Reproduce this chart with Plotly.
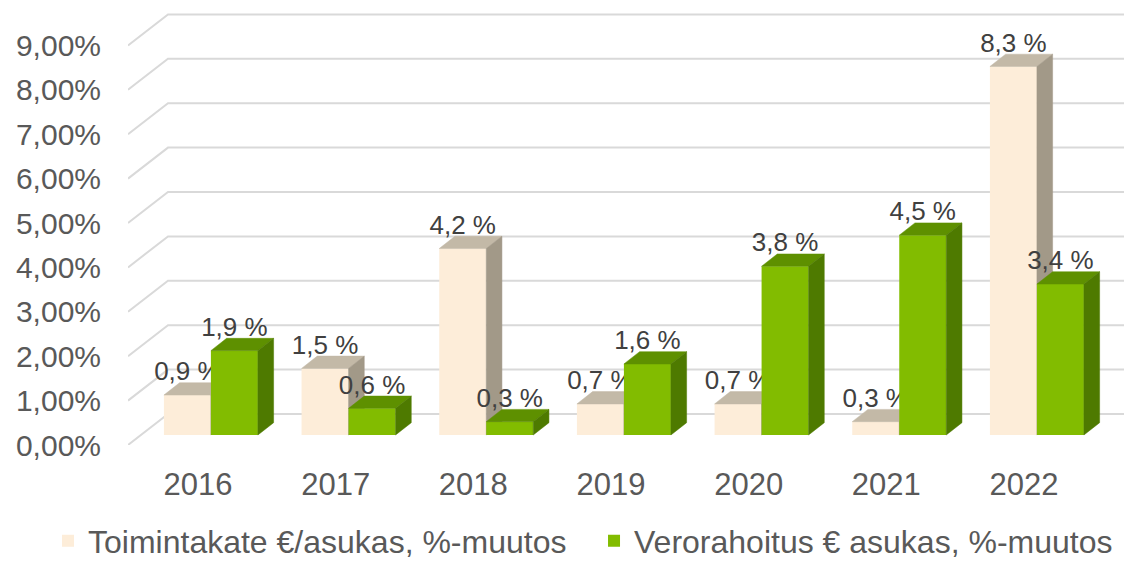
import plotly.graph_objects as go

# ---------------- data ----------------
years = ["2016", "2017", "2018", "2019", "2020", "2021", "2022"]
toimintakate = [0.9, 1.5, 4.2, 0.7, 0.7, 0.3, 8.3]
verorahoitus = [1.9, 0.6, 0.3, 1.6, 3.8, 4.5, 3.4]
y_ticks = [0, 1, 2, 3, 4, 5, 6, 7, 8, 9]
y_tick_labels = ["0,00%", "1,00%", "2,00%", "3,00%", "4,00%", "5,00%",
                 "6,00%", "7,00%", "8,00%", "9,00%"]
series_names = ["Toimintakate €/asukas, %-muutos", "Verorahoitus € asukas, %-muutos"]

# ---------------- geometry (pseudo-3D projection) ----------------
PX_X = 137.67          # pixels per category
PX_Y = 44.4            # pixels per percent
X_LEFT = -0.5085       # front edge of the value axis
X_RIGHT = (1124 - 198) / PX_X
Y_TOP = 435 / PX_Y
GDX, GDY = 40 / PX_X, 31 / PX_Y        # wall depth
BX0, BY0 = 12.9 / PX_X, 10 / PX_Y      # bar front depth
BDX, BDY = 15.7 / PX_X, 12.3 / PX_Y    # bar depth
BW = 47 / PX_X                         # bar width
LBL_DY = 4 / PX_Y                      # label nudge

FONT = "Liberation Sans, Arial, sans-serif"
AX_COL = "#595959"
LBL_COL = "#404040"

styles = [
    dict(front="#FDEDD9", top="#C3B9A7", side="#A29988"),
    dict(front="#82BC00", top="#5E9000", side="#4E7A00"),
]

fig = go.Figure()

# grid lines (front diagonal + back wall)
gx, gy = [], []
for v in y_ticks:
    gx += [X_LEFT, X_LEFT + GDX, X_RIGHT + 0.05, None]
    gy += [v, v + GDY, v + GDY, None]
fig.add_trace(go.Scatter(x=gx, y=gy, mode="lines", line=dict(color="#D9D9D9", width=2),
                         hoverinfo="skip", showlegend=False, xaxis="x", yaxis="y"))

for si, (vals, name) in enumerate([(toimintakate, series_names[0]), (verorahoitus, series_names[1])]):
    st = styles[si]
    yax = "y2" if si == 0 else "y3"
    offset = -BW if si == 0 else 0.0
    centers = [i + BX0 for i in range(len(years))]
    fig.add_trace(go.Bar(x=centers, y=vals, base=[BY0] * len(vals), width=BW, offset=offset,
                         marker=dict(color=st["front"], line=dict(width=0)),
                         name=name, xaxis="x", yaxis=yax, hoverinfo="skip"))
    tx, ty, sx, sy = [], [], [], []
    lx, ly, lt = [], [], []
    for i, v in enumerate(vals):
        xl = centers[i] + offset
        xr = xl + BW
        b = BY0
        t = BY0 + v
        tx += [xl, xr, xr + BDX, xl + BDX, xl, None]
        ty += [t, t, t + BDY, t + BDY, t, None]
        sx += [xr, xr + BDX, xr + BDX, xr, xr, None]
        sy += [b, b + BDY, t + BDY, t, b, None]
        lx.append(xl + BW / 2)
        ly.append(t + BDY - LBL_DY)
        lt.append(f"{v:.1f}".replace(".", ",") + " %")
    fig.add_trace(go.Scatter(x=tx, y=ty, mode="lines", fill="toself", fillcolor=st["top"],
                             line=dict(color=st["top"], width=0.5), hoverinfo="skip",
                             showlegend=False, xaxis="x", yaxis=yax))
    fig.add_trace(go.Scatter(x=sx, y=sy, mode="lines", fill="toself", fillcolor=st["side"],
                             line=dict(color=st["side"], width=0.5), hoverinfo="skip",
                             showlegend=False, xaxis="x", yaxis=yax))
    fig.add_trace(go.Scatter(x=lx, y=ly, mode="text", text=lt, textposition="top center",
                             textfont=dict(family=FONT, size=26, color=LBL_COL),
                             cliponaxis=False, hoverinfo="skip", showlegend=False,
                             xaxis="x", yaxis=yax))

fig.update_layout(
    width=1124, height=562,
    margin=dict(l=128, r=0, t=10, b=117, autoexpand=False),
    paper_bgcolor="white", plot_bgcolor="white",
    barmode="overlay",
    font=dict(family=FONT, color=AX_COL),
    xaxis=dict(range=[X_LEFT, X_RIGHT], tickvals=list(range(len(years))), ticktext=years,
               showgrid=False, zeroline=False, showline=False, ticks="",
               tickfont=dict(family=FONT, size=31, color=AX_COL), ticklabelstandoff=18),
    yaxis=dict(range=[0, Y_TOP], tickvals=y_ticks, ticktext=y_tick_labels,
               showgrid=False, zeroline=False, showline=False, ticks="",
               tickfont=dict(family=FONT, size=30, color=AX_COL), ticklabelstandoff=26),
    yaxis2=dict(range=[0, Y_TOP], overlaying="y", visible=False),
    yaxis3=dict(range=[0, Y_TOP], overlaying="y", visible=False),
    legend=dict(orientation="h", xref="paper", yref="paper", x=-0.0803, y=-0.2207,
                xanchor="left", yanchor="middle", entrywidth=501,
                font=dict(family=FONT, size=32, color=AX_COL), bgcolor="rgba(0,0,0,0)"),
    showlegend=True,
)

fig.write_html("out.html", config={"displayModeBar": False},
               post_script="document.body.style.margin='0';")
